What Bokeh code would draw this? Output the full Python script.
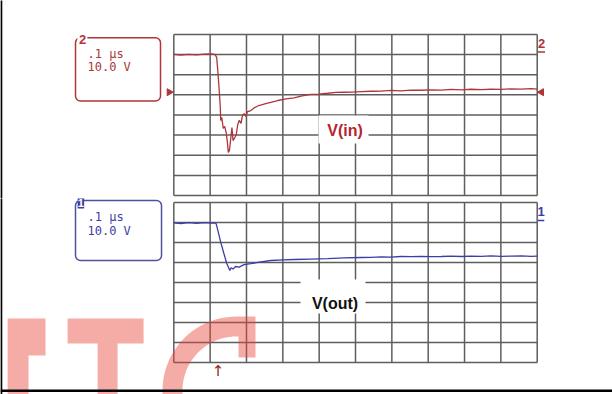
import math
from bokeh.plotting import figure
from bokeh.layouts import column
from bokeh.models import Range1d
from bokeh.core.properties import value
from bokeh.embed import file_html
from bokeh.resources import INLINE

# ---------------- data ----------------
TIME_PER_DIV_US = 0.1      # ".1 us" per division
VOLT_PER_DIV = 10.0        # "10.0 V" per division
N_XDIV = 10
N_YDIV = 8

grid_t = [i * TIME_PER_DIV_US for i in range(N_XDIV + 1)]
grid_v = [j * VOLT_PER_DIV for j in range(N_YDIV + 1)]

# channel 2 : V(in)   (time in us, level in screen volts above bottom graticule)
vin_t = [0.000, 0.019, 0.041, 0.063, 0.085, 0.102, 0.113, 0.118, 0.121, 0.125,
         0.128, 0.129, 0.132, 0.136, 0.140, 0.144, 0.147, 0.150, 0.153, 0.157,
         0.160, 0.163, 0.168, 0.172, 0.176, 0.180, 0.185, 0.189, 0.194, 0.198,
         0.203, 0.212, 0.221, 0.234, 0.253, 0.286, 0.309, 0.331, 0.350, 0.377,
         0.399, 0.423, 0.446, 0.468, 0.493, 0.515, 0.543, 0.570, 0.598, 0.625,
         0.653, 0.680, 0.708, 0.736, 0.763, 0.791, 0.818, 0.846, 0.873, 0.901,
         0.928, 0.956, 0.983, 1.000]
vin_v = [70.1, 69.8, 70.1, 69.9, 70.2, 70.3, 70.1, 68.6, 62.1, 52.2,
         43.7, 37.3, 38.8, 33.3, 34.3, 31.3, 27.3, 21.4, 22.4, 28.8,
         33.8, 27.3, 28.8, 30.3, 35.3, 37.3, 35.8, 39.8, 40.7, 39.3,
         41.7, 42.2, 43.5, 44.7, 45.7, 47.2, 48.0, 48.5, 49.4, 50.2,
         50.4, 50.8, 51.2, 51.3, 51.4, 51.6, 51.8, 51.9, 52.2, 52.0,
         52.4, 52.3, 52.5, 52.4, 52.7, 52.5, 52.8, 52.6, 52.8, 52.7,
         53.0, 52.9, 53.1, 52.9]

# channel 1 : V(out)
vout_t = [0.000, 0.019, 0.041, 0.063, 0.085, 0.102, 0.116, 0.120, 0.129, 0.138,
          0.146, 0.151, 0.154, 0.158, 0.163, 0.170, 0.180, 0.193, 0.212, 0.235,
          0.267, 0.300, 0.331, 0.377, 0.423, 0.468, 0.515, 0.543, 0.570, 0.598,
          0.625, 0.653, 0.680, 0.708, 0.736, 0.763, 0.791, 0.818, 0.846, 0.873,
          0.901, 0.928, 0.956, 0.983, 1.000]
vout_v = [69.8, 69.5, 69.9, 69.6, 69.9, 69.7, 69.7, 66.9, 60.2, 54.4,
          49.4, 47.4, 46.0, 47.4, 46.7, 48.0, 47.7, 48.9, 49.4, 50.2,
          51.0, 51.3, 51.5, 51.7, 51.9, 52.3, 52.5, 52.6, 52.8, 52.7,
          53.0, 52.9, 53.1, 52.9, 53.0, 53.2, 53.0, 53.2, 53.1, 53.3,
          53.1, 53.2, 53.3, 53.1, 53.2]

ch2_labels = [".1 μs", "10.0 V"]
ch1_labels = [".1 μs", "10.0 V"]
ch2_name = "V(in)"
ch1_name = "V(out)"

# ---------------- style ----------------
GRID_COL = "#5e5e5e"
RED = "#b0353a"
RED_TXT = "#a8383b"
BLUE = "#3d3da6"
BLUE_BOX = "#50509e"
MONO = value("DejaVu Sans Mono")
SANS = value("Liberation Sans")

W = 612
X0, X1 = -0.4769, 1.2072
X_EDGE = -0.4747


def base_fig(h, y0, y1):
    p = figure(width=W, height=h, x_range=Range1d(X0, X1), y_range=Range1d(y0, y1),
               output_backend="svg", toolbar_location=None,
               x_axis_type=None, y_axis_type=None, min_border=0,
               outline_line_color=None, background_fill_color="white",
               border_fill_color="white")
    # graticule
    p.segment(x0=grid_t, y0=[grid_v[0]] * len(grid_t), x1=grid_t, y1=[grid_v[-1]] * len(grid_t),
              line_color=GRID_COL, line_width=1.5)
    p.segment(x0=[grid_t[0]] * len(grid_v), y0=grid_v, x1=[grid_t[-1]] * len(grid_v), y1=grid_v,
              line_color=GRID_COL, line_width=1.5)
    # left page border (drawn past the range so it reaches the edges)
    pad = (y1 - y0) * 0.05
    p.segment(x0=[X_EDGE], y0=[y0 - pad], x1=[X_EDGE], y1=[y1 + pad], line_color="black", line_width=2)
    return p


# ================= top panel : channel 2 =================
p1 = base_fig(198, -1.49, 96.89)
# label white patch
p1.quad(left=[0.3982], right=[0.5358], bottom=[25.84], top=[39.75],
        fill_color="white", line_color=None)
p1.line(vin_t, vin_v, line_color=RED, line_width=1.3)
p1.text(x=[0.4711], y=[32.05], text=[ch2_name], text_font=SANS, text_font_style="bold",
        text_font_size="16px", text_color="#b3262d", text_align="center", text_baseline="middle")
# info box
p1.quad(left=[-0.2705], right=[-0.0366], bottom=[46.96], top=[78.36],
        fill_color=None, line_color=RED, line_width=1.5, border_radius=5)
p1.quad(left=[-0.2652], right=[-0.2380], bottom=[74.6], top=[80.6],
        fill_color="white", line_color=None)
p1.text(x=[-0.2512], y=[77.3], text=["2"], text_font=SANS, text_font_style="bold",
        text_font_size="13px", text_color=RED, text_align="center", text_baseline="middle")
p1.text(x=[-0.2375, -0.2375], y=[70.06, 63.75], text=ch2_labels, text_font=MONO,
        text_font_size="12px", text_color=RED_TXT, text_align="left", text_baseline="middle")
# reference markers
p1.scatter(x=[-0.0127], y=[51.33], marker="triangle", size=7, angle=-math.pi / 2,
           fill_color=RED, line_color=RED)
p1.scatter(x=[1.0118], y=[51.33], marker="triangle", size=7, angle=math.pi / 2,
           fill_color=RED, line_color=RED)
p1.text(x=[1.0118], y=[75.4], text=["2"], text_font=SANS, text_font_style="bold",
        text_font_size="13px", text_color=RED, text_align="center", text_baseline="middle")
p1.segment(x0=[1.0022], y0=[71.3], x1=[1.0215], y1=[71.3], line_color=RED, line_width=1.5)

# ================= bottom panel : channel 1 =================
p2 = base_fig(196, -16.0, 82.0)
p2.quad(left=[0.3487], right=[0.5275], bottom=[24.5], top=[41.5],
        fill_color="white", line_color=None)
p2.line(vout_t, vout_v, line_color=BLUE, line_width=1.3)
p2.text(x=[0.4436], y=[29.75], text=[ch1_name], text_font=SANS, text_font_style="bold",
        text_font_size="16px", text_color="#111111", text_align="center", text_baseline="middle")
p2.quad(left=[-0.2705], right=[-0.0338], bottom=[51.0], top=[81.0],
        fill_color=None, line_color=BLUE_BOX, line_width=1.5, border_radius=5)
p2.quad(left=[-0.2646], right=[-0.2467], bottom=[77.0], top=[83.5],
        fill_color=BLUE, line_color=None)
p2.text(x=[-0.2557], y=[80.0], text=["1"], text_font=SANS, text_font_style="bold",
        text_font_size="11px", text_color="white", text_align="center", text_baseline="middle")
p2.text(x=[-0.2375, -0.2375], y=[72.75, 66.0], text=ch1_labels, text_font=MONO,
        text_font_size="12px", text_color=BLUE, text_align="left", text_baseline="middle")
p2.text(x=[1.0105], y=[75.5], text=["1"], text_font=SANS, text_font_style="bold",
        text_font_size="13px", text_color=BLUE, text_align="center", text_baseline="middle")
p2.segment(x0=[1.0022], y0=[71.0], x1=[1.0195], y1=[71.0], line_color=BLUE, line_width=1.5)
# trigger marker
p2.text(x=[0.1216], y=[-4.0], text=["↑"], text_font=value("DejaVu Sans"),
        text_font_size="15px", text_color="#8b2525", text_align="center", text_baseline="middle")

# watermark
cx, cy = 0.1725, -14.0
rxo, ryo, rxi, ryi = 0.2036, 37.0, 0.1486, 27.0
n = 24
outer = [(cx + rxo * math.cos(math.radians(180 - 90 * k / n)),
          cy + ryo * math.sin(math.radians(180 - 90 * k / n))) for k in range(n + 1)]
inner = [(cx + rxi * math.cos(math.radians(90 + 90 * k / n)),
          cy + ryi * math.sin(math.radians(90 + 90 * k / n))) for k in range(n + 1)]
c_shape = ([(cx - rxo, -20.0)] + outer + [(0.2248, 23.0), (0.2248, 2.5), (0.1780, 2.5), (0.1780, 13.0)]
           + inner + [(cx - rxi, -20.0)])
wm_xs = [[-0.4574, -0.3531, -0.3531, -0.3998, -0.3998, -0.4574],
         [-0.2923, -0.0831, -0.0831, -0.1547, -0.1547, -0.2097, -0.2097, -0.2923],
         [pt[0] for pt in c_shape]]
wm_ys = [[22.0, 22.0, 3.5, 3.5, -20.0, -20.0],
         [22.0, 22.0, 9.5, 9.5, -20.0, -20.0, 9.5, 9.5],
         [pt[1] for pt in c_shape]]
p2.patches(wm_xs, wm_ys, fill_color="#e8473a", fill_alpha=0.45, line_color=None)

# bottom page border
p2.segment(x0=[X0], y0=[-14.15], x1=[X1], y1=[-14.15], line_color="black", line_width=2.5)

layout = column(p1, p2, spacing=0)
open("out.html", "w").write(file_html(layout, INLINE))
